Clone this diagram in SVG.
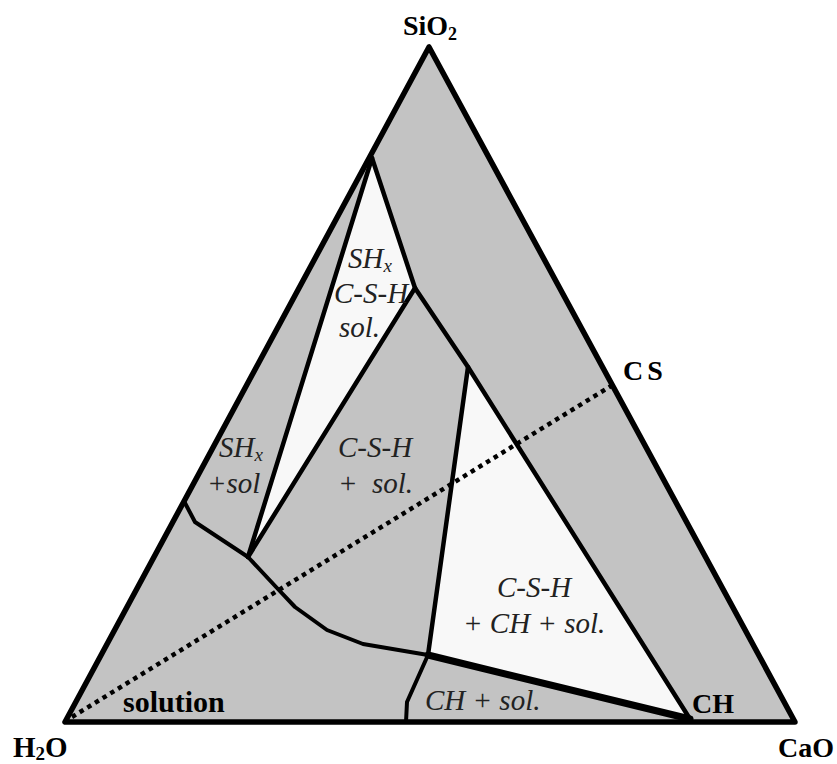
<svg xmlns="http://www.w3.org/2000/svg" width="837" height="764" viewBox="0 0 837 764">
<style>
.bold{font-family:"Liberation Serif","Times New Roman","DejaVu Serif",serif;font-weight:bold;font-size:28px;fill:#000}
.it{font-family:"Liberation Serif","Times New Roman","DejaVu Serif",serif;font-style:italic;font-size:29px;fill:#222}
.ln{fill:none;stroke:#000;stroke-linejoin:round;stroke-linecap:round}
.gray{fill:#c3c3c3}
.light{fill:#f8f8f8}
</style>
<rect width="837" height="764" fill="#fff"/>
<g id="outer-triangle">
<polygon class="gray" points="429,47 65,722 795,722"/>
</g>
<g id="region-shx-csh-sol">
<polygon class="light" points="372,158 415,288 248,557"/>
</g>
<g id="region-csh-ch-sol">
<polygon class="light" points="468,367 428,655 690,719"/>
</g>
<g id="connectors">
<polyline class="ln" stroke-width="4.5" points="372,158 248,557"/>
<polyline class="ln" stroke-width="4.5" points="372,158 415,288 468,367 690,719"/>
<polyline class="ln" stroke-width="4.5" points="415,288 248,557"/>
<polyline class="ln" stroke-width="4.5" points="468,367 428,655"/>
<polyline class="ln" stroke-width="4" points="185,503 195,522 248,557 277,588 295,607 327,630 363,644 428,655"/>
<polyline class="ln" stroke-width="7" points="428,655 690,719"/>
<polyline class="ln" stroke-width="4" points="428,655 407,702 406,722"/>
<line x1="72" y1="717" x2="611" y2="386" stroke="#000" stroke-width="4.5" stroke-dasharray="4.5 4.5"/>
<polygon class="ln" stroke-width="5.5" points="429,47 65,722 795,722"/>
</g>
<g id="labels">
<text class="bold" x="430" y="35" text-anchor="middle">SiO<tspan font-size="18" dy="5">2</tspan></text>
<text class="bold" x="623" y="380" letter-spacing="4">CS</text>
<text class="bold" x="692" y="713">CH</text>
<text class="bold" x="13" y="757" style="font-size:29px">H<tspan font-size="19" dy="3">2</tspan><tspan dy="-3">O</tspan></text>
<text class="bold" x="834" y="757" text-anchor="end">CaO</text>
<text class="bold" x="123" y="712" style="font-size:30px">solution</text>
<text class="it" x="348" y="268">SH<tspan font-size="19" dy="4">x</tspan></text>
<text class="it" x="334" y="303">C-S-H</text>
<text class="it" x="339" y="337">sol.</text>
<text class="it" x="219" y="457">SH<tspan font-size="19" dy="4">x</tspan></text>
<text class="it" x="207" y="493">+sol</text>
<text class="it" x="338" y="457">C-S-H</text>
<text class="it" x="338" y="493">+</text>
<text class="it" x="372" y="493">sol.</text>
<text class="it" x="497" y="597">C-S-H</text>
<text class="it" x="463" y="633">+ CH + sol.</text>
<text class="it" x="425" y="710">CH + sol.</text>
</g>
</svg>
